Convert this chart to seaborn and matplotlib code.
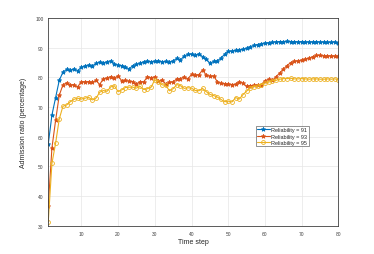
import numpy as np
import pandas as pd
import matplotlib
matplotlib.use("Agg")
import matplotlib.pyplot as plt
import seaborn as sns

# --- data ---
steps = list(range(1, 81))

rel_91 = [57.5, 67.3, 73.2, 79.0, 81.8, 82.7, 82.4, 82.9, 82.3, 83.4,
          83.9, 84.2, 83.9, 84.7, 85.2, 84.9, 85.3, 85.6, 84.6, 84.1,
          84.0, 83.6, 82.8, 84.0, 84.4, 84.8, 85.3, 85.5, 85.3, 85.5,
          85.6, 85.3, 85.4, 85.2, 85.6, 86.4, 85.9, 87.2, 87.8, 87.9,
          87.4, 88.0, 87.0, 86.2, 84.8, 85.4, 85.6, 86.5, 87.8, 88.8,
          88.9, 89.1, 89.3, 89.5, 89.8, 90.4, 90.8, 91.1, 91.4, 91.6,
          91.7, 91.9, 92.0, 92.1, 92.1, 92.2, 92.1, 92.1, 92.0, 92.1,
          92.0, 92.0, 92.0, 92.1, 91.9, 92.0, 91.9, 91.9, 92.0, 91.7]

rel_93 = [36.5, 56.2, 65.5, 74.0, 77.5, 78.2, 77.4, 77.6, 76.8, 78.6,
          78.5, 78.6, 78.3, 79.0, 77.6, 79.6, 79.8, 80.3, 79.8, 80.5,
          78.9, 79.0, 78.7, 78.6, 77.8, 78.6, 78.5, 80.3, 79.9, 80.2,
          78.8, 79.2, 77.8, 78.4, 78.5, 79.5, 79.6, 80.2, 79.5, 81.0,
          80.8, 80.9, 82.5, 80.8, 80.4, 80.5, 78.6, 78.0, 77.9, 77.8,
          77.6, 77.7, 78.6, 78.0, 77.0, 77.2, 77.3, 77.5, 77.6, 78.9,
          79.4, 79.0, 80.2, 81.5, 82.8, 84.0, 85.0, 85.5, 85.6, 85.9,
          86.2, 86.5, 87.0, 87.4, 87.4, 87.3, 87.3, 87.3, 87.2, 87.1]

rel_95 = [31.2, 51.0, 57.8, 66.0, 70.3, 70.7, 71.8, 72.6, 73.0, 72.7,
          73.0, 73.3, 72.4, 73.0, 75.0, 75.6, 75.3, 76.8, 77.2, 75.2,
          75.8, 76.6, 76.7, 76.7, 76.4, 77.0, 75.9, 76.2, 76.7, 79.2,
          78.4, 77.5, 77.3, 75.5, 76.2, 77.6, 77.2, 76.3, 76.5, 76.4,
          75.6, 75.5, 76.3, 75.2, 74.3, 73.9, 73.4, 72.6, 71.8, 72.0,
          71.7, 73.2, 72.7, 74.2, 75.4, 76.4, 76.9, 77.0, 77.6, 78.1,
          78.4, 78.9, 79.0, 79.4, 79.6, 79.6, 79.7, 79.5, 79.5, 79.6,
          79.5, 79.4, 79.5, 79.5, 79.4, 79.4, 79.5, 79.4, 79.5, 79.3]

series_names = ["Reliability = 91", "Reliability = 93", "Reliability = 95"]
x_ticks = [10, 20, 30, 40, 50, 60, 70, 80]
y_ticks = [30, 40, 50, 60, 70, 80, 90, 100]

df = pd.DataFrame({
    "step": steps * 3,
    "ratio": rel_91 + rel_93 + rel_95,
    "series": [n for n in series_names for _ in steps],
})

sns.set_style("whitegrid")
plt.rcParams["font.family"] = ["Liberation Sans", "DejaVu Sans"]

palette = {series_names[0]: "#0072BD",
           series_names[1]: "#D95319",
           series_names[2]: "#EDB120"}
markers = {series_names[0]: "*", series_names[1]: "*", series_names[2]: "o"}

fig = plt.figure(figsize=(3.74, 2.55), dpi=100)
ax = fig.add_axes([0.129, 0.111, 0.776, 0.814])

sns.lineplot(data=df, x="step", y="ratio", hue="series", style="series",
             palette=palette, markers=markers, dashes=False, linewidth=0.8,
             markersize=3.2, ax=ax)

ax.set_xlim(1, 80)
ax.set_ylim(30, 100)
ax.set_xticks(x_ticks)
ax.set_yticks(y_ticks)
ax.tick_params(labelsize=3.5, colors="#404040", length=1.5, direction="in")
ax.grid(True, color="#e6e6e6", linewidth=0.5)
for side in ax.spines.values():
    side.set_color("#404040")
    side.set_linewidth(0.6)

ax.set_xlabel("Time step", fontsize=5, color="#262626", labelpad=2)
ax.set_ylabel("Admission ratio (percentage)", fontsize=5, color="#262626", labelpad=6)

leg = ax.legend(loc="upper left", bbox_to_anchor=(0.705, 0.495), fontsize=4,
                frameon=True, fancybox=False, borderpad=0.3, labelspacing=0.2,
                handlelength=2.2, handletextpad=0.3)
leg.get_frame().set_edgecolor("#404040")
leg.get_frame().set_linewidth(0.5)


def style_markers(line):
    # solid-coloured marker edges (seaborn draws white ones by default)
    line.set_markeredgecolor(line.get_color())
    line.set_markeredgewidth(0.6)
    if line.get_marker() == "o":
        line.set_markerfacecolor("none")
        line.set_markersize(2.8)


for line in ax.lines:
    style_markers(line)
for line in leg.get_lines():
    style_markers(line)

fig.savefig("out.png", dpi=100)
